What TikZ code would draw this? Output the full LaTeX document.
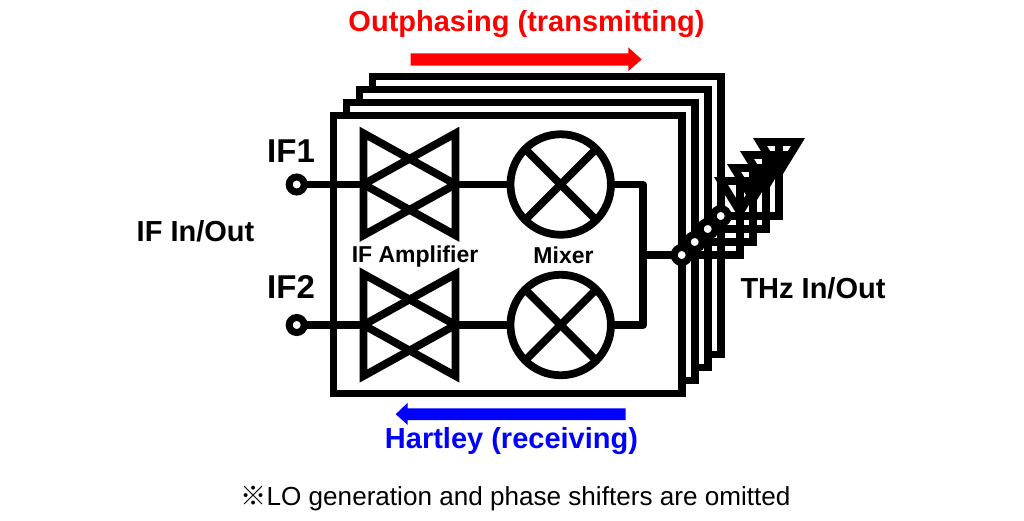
\documentclass[tikz,border=0pt]{standalone}
\usepackage{fontspec}
\setmainfont{Liberation Sans}
\newfontfamily\cjk{Noto Sans CJK JP}
\tikzset{x=1pt,y=-1pt,
 thick line/.style={line width=7.8pt,draw=black,miter limit=20},
 frame box/.style={thick line,fill=white},
 amp/.style={thick line},
 port/.style={circle,draw=black,fill=white,line width=7pt,minimum size=15pt,inner sep=0pt,outer sep=0pt},
 mixer/.style={circle,draw=black,line width=7.8pt,minimum size=100.5pt,inner sep=0pt,outer sep=0pt},
 lbl/.style={font=\bfseries\fontsize{#1}{#1}\selectfont,inner sep=0pt,anchor=base},
 lbl/.default=29
}
\begin{document}
\begin{tikzpicture}
\useasboundingbox[fill=white] (0,0) rectangle (1024,520);
% frames
\foreach \i/\n in {3/d,2/c,1/b,0/a}{
  \draw[frame box] ({333.5+13*\i},{115.5-13*\i}) rectangle ({682+13*\i},{393.5-13*\i});
}
% amplifiers
\foreach \y in {184.3,325}{
  \draw[amp] (363.5,\y-51) -- (363.5,\y+51) -- (455.5,\y) -- cycle;
  \draw[amp] (455.5,\y-51) -- (455.5,\y+51) -- (363.5,\y) -- cycle;
}
% nodes
\node[port] (p1) at (296.7,184.5) {};
\node[port] (p2) at (296.7,325) {};
\node[mixer] (m1) at (560.7,184.5) {};
\node[mixer] (m2) at (560.7,325) {};
\coordinate (a1) at (363.5,184.5);
\coordinate (a2) at (363.5,325);
\coordinate (b1) at (455.5,184.5);
\coordinate (b2) at (455.5,325);
\coordinate (j) at (643,255);
\draw[thick line] (p1) -- (a1);
\draw[thick line] (p2) -- (a2);
\draw[thick line] (b1) -- (m1);
\draw[thick line] (b2) -- (m2);
\draw[thick line,line join=round] (m1.east) -- (643,184.5) -- (643,325) -- (m2.east);
\foreach \m in {m1,m2}{
  \draw[thick line] (\m.45) -- (\m.225);
  \draw[thick line] (\m.135) -- (\m.315);
}
% antennas
\foreach \i/\n in {3/q4,2/q3,1/q2,0/q1}{
  \draw[thick line] ({740+13*\i},{181-13*\i}) -- ({740+13*\i},{255-13*\i}) -- ({681.7+13*\i},{255-13*\i});
  \draw[thick line] ({740-19+13*\i},{181-13*\i}) -- ({740+19+13*\i},{181-13*\i}) -- ({740+13*\i},{212-13*\i}) -- cycle;
}
\draw[thick line] (j) -- (681.7,255);
\foreach \i/\n in {3/d,2/c,1/b,0/a}{
  \node[port] (r\n) at ({681.7+13*\i},{255-13*\i}) {};
}
% arrows
\fill[red] (410.7,53.3) -- (628.3,53.3) -- (628.3,47.3) -- (641.7,59.5) -- (628.3,71) -- (628.3,65.7) -- (410.7,65.7) -- cycle;
\fill[blue] (625.7,408.3) -- (407.7,408.3) -- (407.7,402.7) -- (395.7,414.2) -- (407.7,425) -- (407.7,420) -- (625.7,420) -- cycle;
% labels
\node[lbl,red] (o) at (526.5,31) {Outphasing (transmitting)};
\node[lbl,blue] (h) at (511.5,448) {Hartley (receiving)};
\node[lbl=33] (if1) at (291,162) {IF1};
\node[lbl=33] (if2) at (291,298) {IF2};
\node[lbl] (ifio) at (195.5,241) {IF In/Out};
\node[lbl] (thz) at (813,298) {THz In/Out};
\node[lbl=23] (ifa) at (415,262) {IF Amplifier};
\node[lbl=23] (mx) at (563.5,263) {Mixer};
\node[font=\fontsize{26.1}{26.1}\selectfont,inner sep=0pt,anchor=base] (note) at (515.5,505) {{\cjk ※}LO generation and phase shifters are omitted};
\end{tikzpicture}
\end{document}
